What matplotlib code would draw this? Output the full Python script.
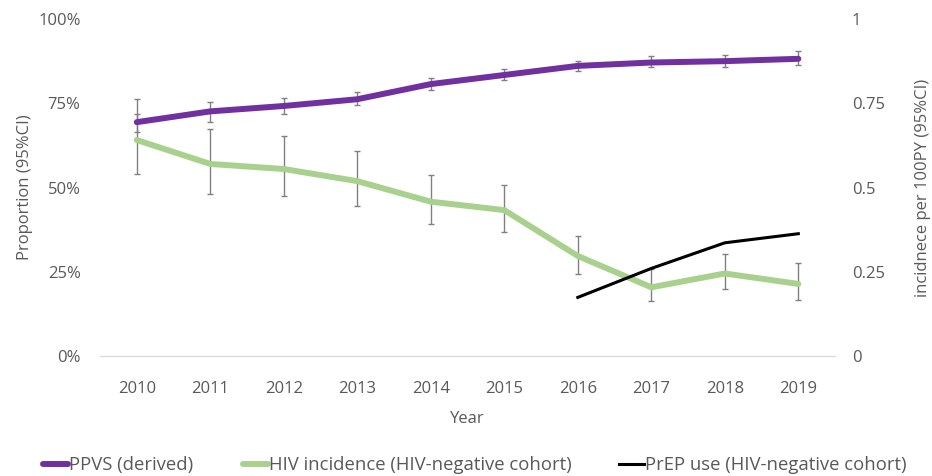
import matplotlib.pyplot as plt
from matplotlib.ticker import FuncFormatter
import numpy as np

years = ['2010', '2011', '2012', '2013', '2014', '2015', '2016', '2017', '2018', '2019']

# PPVS (derived), proportion, with 95% CI
ppvs = [0.694, 0.726, 0.742, 0.762, 0.807, 0.834, 0.861, 0.871, 0.875, 0.882]
ppvs_lo = [0.664, 0.694, 0.717, 0.744, 0.789, 0.818, 0.845, 0.857, 0.858, 0.864]
ppvs_hi = [0.762, 0.754, 0.767, 0.784, 0.825, 0.853, 0.876, 0.890, 0.894, 0.904]

# HIV incidence per 100PY, with 95% CI
inc = [0.641, 0.570, 0.555, 0.519, 0.458, 0.433, 0.297, 0.204, 0.245, 0.214]
inc_lo = [0.539, 0.482, 0.475, 0.445, 0.391, 0.367, 0.243, 0.162, 0.198, 0.166]
inc_hi = [0.719, 0.673, 0.652, 0.608, 0.537, 0.507, 0.356, 0.257, 0.304, 0.277]

# PrEP use (proportion), 2016-2019
prep_years = ['2016', '2017', '2018', '2019']
prep = [0.174, 0.260, 0.336, 0.363]

purple = '#7030A0'
green = '#A9D18E'
grey_txt = '#595959'
err_col = '#808080'

plt.rcParams['font.family'] = ['Open Sans', 'DejaVu Sans']

fig = plt.figure(figsize=(9.32, 4.76), dpi=100)
ax = fig.add_axes([0.1073, 0.252, 0.7887, 0.708])
ax2 = ax.twinx()

x = np.arange(len(years))
xp = np.array([years.index(y) for y in prep_years])

ppvs = np.array(ppvs)
inc = np.array(inc)
ax.errorbar(x, ppvs, yerr=[ppvs - np.array(ppvs_lo), np.array(ppvs_hi) - ppvs],
            fmt='none', ecolor=err_col, elinewidth=1, capsize=2.5, capthick=1, zorder=2)
l1, = ax.plot(x, ppvs, color=purple, lw=4.3, solid_capstyle='round', zorder=3,
              label='PPVS (derived)')
l3, = ax.plot(xp, prep, color='black', lw=2.2, zorder=4,
              label='PrEP use (HIV-negative cohort)')

ax2.errorbar(x, inc, yerr=[inc - np.array(inc_lo), np.array(inc_hi) - inc],
             fmt='none', ecolor=err_col, elinewidth=1, capsize=2.5, capthick=1, zorder=2)
l2, = ax2.plot(x, inc, color=green, lw=4.3, solid_capstyle='round', zorder=3,
               label='HIV incidence (HIV-negative cohort)')

ax.set_zorder(ax2.get_zorder() + 1)
ax.patch.set_visible(False)

ax.set_xlim(-0.5, len(years) - 0.5)
ax.set_ylim(0, 1)
ax2.set_ylim(0, 1)
ax.set_xticks(x)
ax.set_xticklabels(years)
ax.set_yticks([0, 0.25, 0.5, 0.75, 1.0])
ax.yaxis.set_major_formatter(FuncFormatter(lambda v, p: f'{v*100:.0f}%'))
ax2.set_yticks([0, 0.25, 0.5, 0.75, 1.0])
ax2.yaxis.set_major_formatter(FuncFormatter(lambda v, p: f'{v:g}'))

for a in (ax, ax2):
    for s in ('top', 'left', 'right'):
        a.spines[s].set_visible(False)
    a.spines['bottom'].set_color('#d9d9d9')
    a.tick_params(length=0, colors=grey_txt, labelsize=12)
ax.tick_params(axis='y', pad=14)
ax2.tick_params(axis='y', pad=12)
ax.tick_params(axis='x', pad=18)

ax.set_xlabel('Year', color=grey_txt, fontsize=12, labelpad=10)
ax.set_ylabel('Proportion (95%CI)', color=grey_txt, fontsize=12, labelpad=4)
ax2.set_ylabel('incidnece per 100PY (95%CI)', color=grey_txt, fontsize=12, labelpad=22)

# three separate legend entries, placed like the original
leg_x = [0.046, 0.261, 0.664]
for h, lx in zip([l1, l2, l3], leg_x):
    leg = fig.legend(handles=[h], loc='center left', bbox_to_anchor=(lx, 0.023),
                     frameon=False, handlelength=1.35, handletextpad=0.05,
                     borderpad=0, borderaxespad=0, fontsize=13.3)
    for t in leg.get_texts():
        t.set_color(grey_txt)

fig.savefig('out.png', dpi=100)
